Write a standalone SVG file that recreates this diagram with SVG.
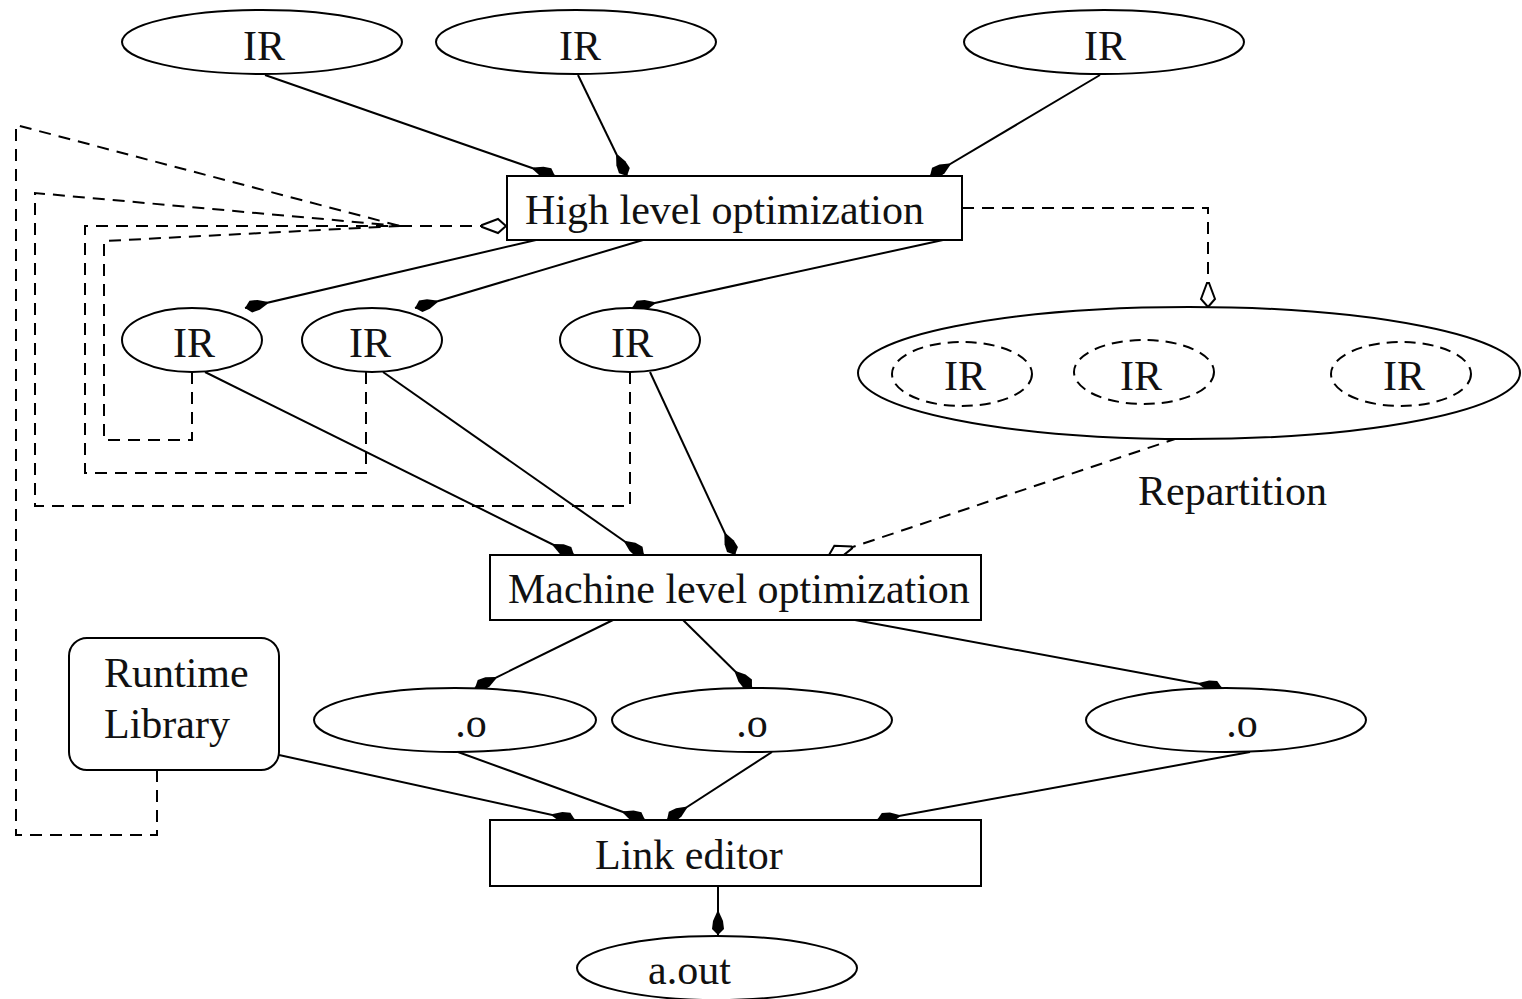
<svg xmlns="http://www.w3.org/2000/svg" width="1522" height="999" viewBox="0 0 1522 999">
<style>
.n{fill:#fff;stroke:#000;stroke-width:2}
.dn{fill:none;stroke:#000;stroke-width:2;stroke-dasharray:11 7}
.t{font-family:"Liberation Serif","Times New Roman",serif;font-size:42px;fill:#111}
.m{text-anchor:middle}
.e{fill:none;stroke:#000;stroke-width:2}
.ed{fill:none;stroke:#000;stroke-width:2;stroke-dasharray:12 8}
</style>
<defs>
<marker id="fd" viewBox="-26 -8 28 16" refX="0" refY="0" markerWidth="28" markerHeight="16" orient="auto" markerUnits="userSpaceOnUse">
<path d="M0,0 L-6,-6 L-14,-5 L-23,-1 L-23,1 L-14,5 L-6,6 Z" fill="#000"/>
</marker>
<marker id="od" viewBox="-28 -9 30 18" refX="0" refY="0" markerWidth="30" markerHeight="18" orient="auto" markerUnits="userSpaceOnUse">
<path d="M0,0 L-8,-7 L-24,-1 L-24,1 L-8,7 Z" fill="#fff" stroke="#000" stroke-width="2"/>
</marker>
</defs>
<g id="connectors">
<path class="e" d="M265,75 L555,176" marker-end="url(#fd)"/>
<path class="e" d="M578,75 L627,176" marker-end="url(#fd)"/>
<path class="e" d="M1100,75 L930,176" marker-end="url(#fd)"/>
<path class="e" d="M536,240 L245,308" marker-end="url(#fd)"/>
<path class="e" d="M643,240 L415,308" marker-end="url(#fd)"/>
<path class="e" d="M943,240 L632,308" marker-end="url(#fd)"/>
<path class="e" d="M205,372 L574,555" marker-end="url(#fd)"/>
<path class="e" d="M383,372 L644,555" marker-end="url(#fd)"/>
<path class="e" d="M650,372 L735,555" marker-end="url(#fd)"/>
<path class="e" d="M613,620 L475,688" marker-end="url(#fd)"/>
<path class="e" d="M683,620 L752,688" marker-end="url(#fd)"/>
<path class="e" d="M855,620 L1222,688" marker-end="url(#fd)"/>
<path class="e" d="M279,755 L575,820" marker-end="url(#fd)"/>
<path class="e" d="M458,752 L645,820" marker-end="url(#fd)"/>
<path class="e" d="M772,752 L667,820" marker-end="url(#fd)"/>
<path class="e" d="M1250,752 L877,820" marker-end="url(#fd)"/>
<path class="e" d="M718,887 L718,935" marker-end="url(#fd)"/>
<path class="ed" d="M157,770 L157,835 L16,835 L16,125 L400,226"/>
<path class="ed" d="M630,372 L630,506 L35,506 L35,193 L400,226"/>
<path class="ed" d="M366,372 L366,473 L85,473 L85,226 L400,226"/>
<path class="ed" d="M192,372 L192,440 L104,440 L104,241 L400,226"/>
<path class="ed" d="M400,226 L506,226" marker-end="url(#od)"/>
<path class="ed" d="M962,208 L1208,208 L1208,307" marker-end="url(#od)"/>
<path class="ed" d="M1178,438 L829,555" marker-end="url(#od)"/>
</g>
<g id="ir_top1"><ellipse class="n" cx="262" cy="42" rx="140" ry="32"/><text class="t m" x="264" y="60">IR</text></g>
<g id="ir_top2"><ellipse class="n" cx="576" cy="42" rx="140" ry="32"/><text class="t m" x="580" y="60">IR</text></g>
<g id="ir_top3"><ellipse class="n" cx="1104" cy="42" rx="140" ry="32"/><text class="t m" x="1105" y="60">IR</text></g>
<g id="high_level"><rect class="n" x="507" y="176" width="455" height="64"/><text class="t" x="525" y="224">High level optimization</text></g>
<g id="ir_mid1"><ellipse class="n" cx="192" cy="340" rx="70" ry="32"/><text class="t m" x="194" y="357">IR</text></g>
<g id="ir_mid2"><ellipse class="n" cx="372" cy="340" rx="70" ry="32"/><text class="t m" x="370" y="357">IR</text></g>
<g id="ir_mid3"><ellipse class="n" cx="630" cy="340" rx="70" ry="32"/><text class="t m" x="632" y="357">IR</text></g>
<g id="repartition">
<ellipse class="n" cx="1189" cy="373" rx="331" ry="66"/>
<ellipse class="dn" cx="962" cy="374" rx="70" ry="32"/>
<text class="t m" x="965" y="390">IR</text>
<ellipse class="dn" cx="1144" cy="372" rx="70" ry="32"/>
<text class="t m" x="1141" y="390">IR</text>
<ellipse class="dn" cx="1401" cy="374" rx="70" ry="32"/>
<text class="t m" x="1404" y="390">IR</text>
</g>
<g id="repartition_label"><text class="t" x="1138" y="505">Repartition</text></g>
<g id="machine_level"><rect class="n" x="490" y="555" width="491" height="65"/><text class="t" x="508" y="603">Machine level optimization</text></g>
<g id="runtime_library"><rect class="n" x="69" y="638" width="210" height="132" rx="18" ry="18"/><text class="t" x="104" y="687">Runtime</text><text class="t" x="104" y="738">Library</text></g>
<g id="obj1"><ellipse class="n" cx="455" cy="720" rx="141" ry="32"/><text class="t m" x="471" y="737">.o</text></g>
<g id="obj2"><ellipse class="n" cx="752" cy="720" rx="140" ry="32"/><text class="t m" x="752" y="737">.o</text></g>
<g id="obj3"><ellipse class="n" cx="1226" cy="720" rx="140" ry="32"/><text class="t m" x="1242" y="737">.o</text></g>
<g id="link_editor"><rect class="n" x="490" y="820" width="491" height="66"/><text class="t" x="595" y="869">Link editor</text></g>
<g id="aout"><ellipse class="n" cx="717" cy="968" rx="140" ry="32"/><text class="t" x="648" y="984">a.out</text></g>
</svg>
